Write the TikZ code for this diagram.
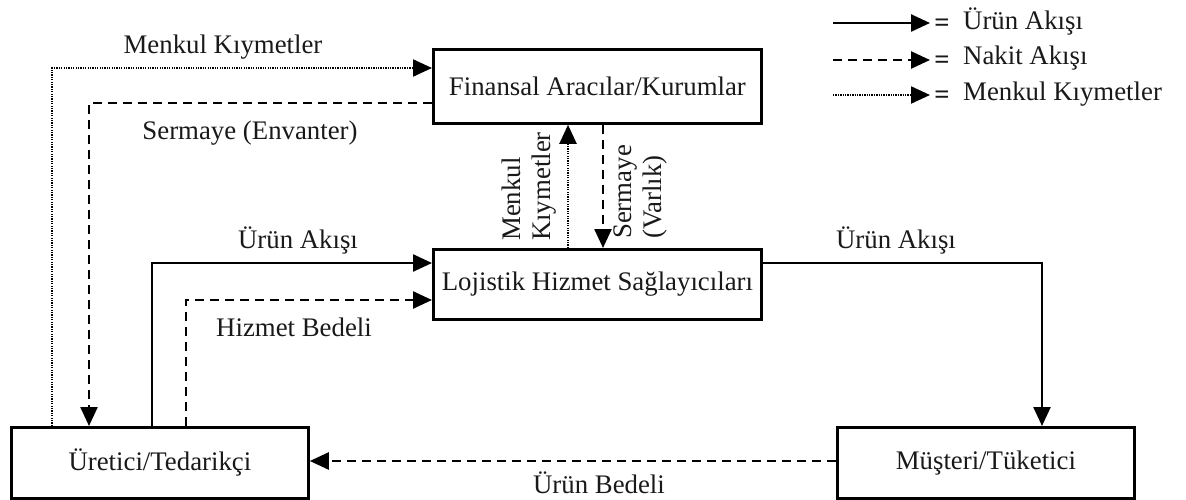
\documentclass[tikz,border=0pt]{standalone}
\usepackage{fontspec}
\setmainfont{Liberation Serif}
\usetikzlibrary{arrows.meta,calc}
\begin{document}
\begin{tikzpicture}[x=1pt,y=-1pt,
  every node/.style={font=\fontsize{26.8}{30}\selectfont, text=black!90},
  box/.style={draw, line width=2.8pt, anchor=north west, inner sep=0pt},
  flow/.style={line width=2.5pt, -{Triangle[length=19pt,width=17pt]}},
  product/.style={flow},
  cash/.style={flow, dash pattern=on 9pt off 6pt},
  security/.style={flow, dash pattern=on 1.3pt off 1.1pt, line width=2.2pt},
  lbl/.style={inner sep=0pt}]
\useasboundingbox (0,0) rectangle (1186,500);

% main boxes
\node[box, minimum width=328pt, minimum height=74pt] (fin) at (432,48) {};
\node at (fin.center) (finT) {Finansal Aracılar/Kurumlar};
\node[box, minimum width=328pt, minimum height=70pt] (loj) at (432,248) {};
\node at (loj.center) (lojT) {Lojistik Hizmet Sağlayıcıları};
\node[box, minimum width=297pt, minimum height=71pt] (ure) at (10,426) {};
\node at (ure.center) (ureT) {Üretici/Tedarikçi};
\node[box, minimum width=297pt, minimum height=71pt] (mus) at (836,426) {};
\node at (mus.center) (musT) {Müşteri/Tüketici};

% producer <-> financial institutions
\draw[security] ($(ure.north west)+(42,0)$) |- ($(fin.north west)+(0,20)$);
\draw[cash] ($(fin.north west)+(0,55)$) -| ($(ure.north west)+(79,0)$);

% producer <-> logistics
\draw[product] ($(ure.north west)+(142,0)$) |- ($(loj.north west)+(0,15)$);
\draw[cash] ($(ure.north west)+(176,0)$) |- ($(loj.north west)+(0,52)$);

% logistics -> customer
\draw[product] ($(loj.north east)+(0,15)$) -| ($(mus.north west)+(206,0)$);

% customer -> producer
\draw[cash] (mus.west |- 0,461) -- (ure.east |- 0,461);

% logistics <-> financial institutions
\draw[security] ($(loj.north west)+(136,0)$) -- ($(fin.south west)+(136,0)$);
\draw[cash] ($(fin.south west)+(171,0)$) -- ($(loj.north west)+(171,0)$);

% flow labels
\node[lbl] (l1) at (223,47) {Menkul Kıymetler};
\node[lbl] (l2) at (250,133) {Sermaye (Envanter)};
\node[lbl] (l3) at (298,240) {Ürün Akışı};
\node[lbl] (l4) at (294,327) {Hizmet Bedeli};
\node[lbl] (l5) at (896,240) {Ürün Akışı};
\node[lbl] (l6) at (599,483) {Ürün Bedeli};
\node[lbl, rotate=90, anchor=south west, align=left] (l7) at (556,241) {Menkul\\Kıymetler};
\node[lbl, rotate=90, anchor=north west, align=left] (l8) at (614,239) {Sermaye\\(Varlık)};

% legend
\coordinate (k1a) at (833,23); \coordinate (k1b) at (930,23);
\coordinate (k2a) at (833,60); \coordinate (k2b) at (930,60);
\coordinate (k3a) at (833,95); \coordinate (k3b) at (930,95);
\draw[product] (k1a) -- (k1b);
\draw[cash] (k2a) -- (k2b);
\draw[security] (k3a) -- (k3b);
\node[lbl, font=\fontsize{26.8}{30}\selectfont\bfseries] (e1) at (942,25) {=};
\node[lbl, font=\fontsize{26.8}{30}\selectfont\bfseries] (e2) at (942,62) {=};
\node[lbl, font=\fontsize{26.8}{30}\selectfont\bfseries] (e3) at (942,97) {=};
\node[lbl, anchor=west] (t1) at (963,21) {Ürün Akışı};
\node[lbl, anchor=west] (t2) at (963,58) {Nakit Akışı};
\node[lbl, anchor=west] (t3) at (963,94) {Menkul Kıymetler};
\end{tikzpicture}
\end{document}
